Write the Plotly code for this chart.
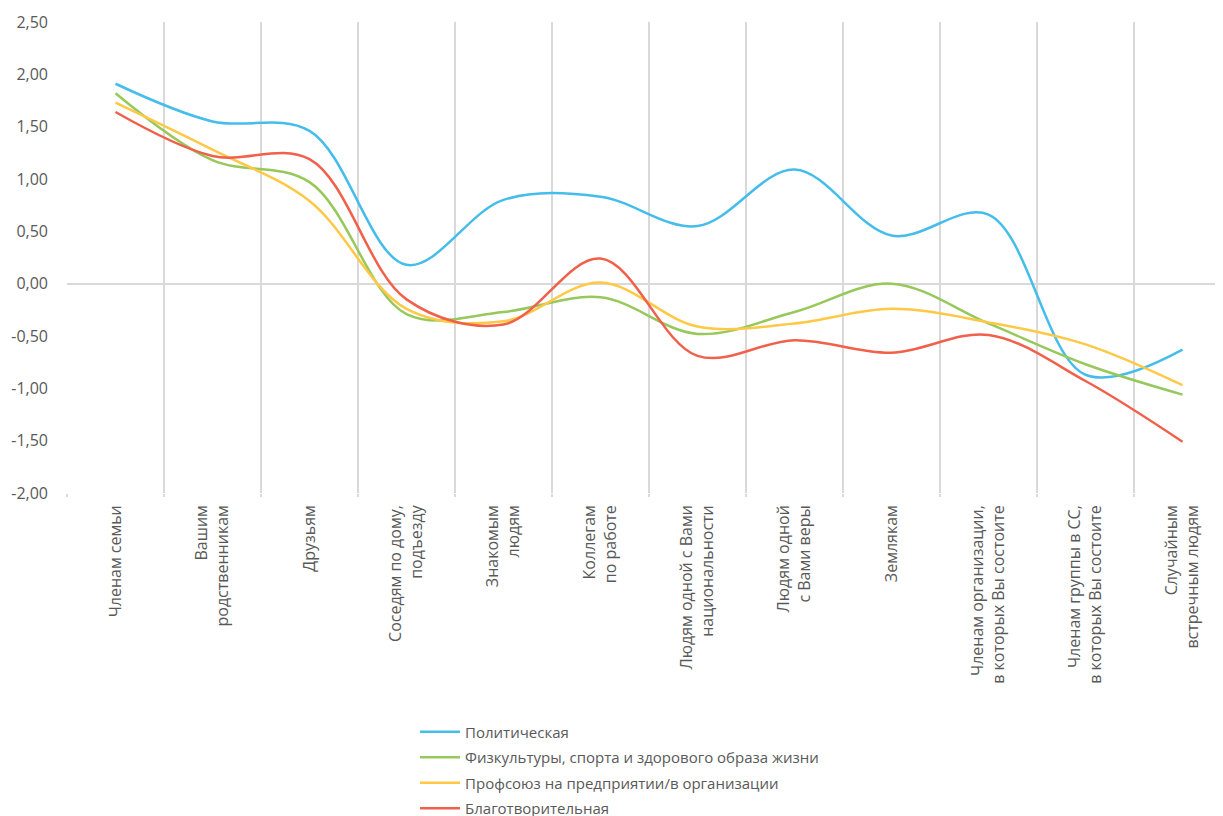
import plotly.graph_objects as go

categorias = [
    "Членам семьи",
    "Вашим<br>родственникам",
    "Друзьям",
    "Соседям по дому,<br>подъезду",
    "Знакомым<br>людям",
    "Коллегам<br>по работе",
    "Людям одной с Вами<br>национальности",
    "Людям одной<br>с Вами веры",
    "Землякам",
    "Членам организации,<br>в которых Вы состоите",
    "Членам группы в СС,<br>в которых Вы состоите",
    "Случайным<br>встречным людям",
]

politicheskaya = [1.91, 1.55, 1.46, 0.18, 0.80, 0.83, 0.55, 1.09, 0.46, 0.66, -0.87, -0.63]
fizkultura = [1.82, 1.18, 0.97, -0.29, -0.27, -0.13, -0.48, -0.27, 0.00, -0.38, -0.77, -1.06]
profsoyuz = [1.73, 1.28, 0.79, -0.24, -0.36, 0.01, -0.41, -0.38, -0.24, -0.37, -0.58, -0.97]
blagotvoritelnaya = [1.64, 1.22, 1.19, -0.15, -0.39, 0.24, -0.69, -0.54, -0.66, -0.49, -0.93, -1.51]

serie_nombres = [
    "Политическая",
    "Физкультуры, спорта и здорового образа жизни",
    "Профсоюз на предприятии/в организации",
    "Благотворительная",
]
colores = ["#45BDEA", "#96C85A", "#FFC845", "#F0604A"]

y_ticks = [-2.0, -1.5, -1.0, -0.5, 0.0, 0.5, 1.0, 1.5, 2.0, 2.5]
y_ticktext = ["-2,00", "-1,50", "-1,00", "-0,50", "0,00", "0,50", "1,00", "1,50", "2,00", "2,50"]

fig = go.Figure()
for i, (nombre, valores, color) in enumerate(zip(serie_nombres,
                                                 [politicheskaya, fizkultura, profsoyuz, blagotvoritelnaya],
                                                 colores)):
    fig.add_trace(go.Scatter(
        x=categorias,
        y=valores,
        name=nombre,
        legendgroup=f"g{i}",
        mode="lines",
        line=dict(color=color, width=2.5, shape="spline", smoothing=1.0),
    ))

gris = "#595959"
# la pagina tiene 8px de margen en el body, se compensa en los margenes
fig.update_layout(
    width=1223,
    height=816,
    separators=", ",
    plot_bgcolor="white",
    paper_bgcolor="white",
    font=dict(family="Open Sans, Noto Sans, sans-serif", size=16, color=gris),
    margin=dict(l=59, r=0, t=14, b=331),
    showlegend=True,
    legend=dict(
        x=0.299,
        y=0.133,
        xref="paper",
        yref="container",
        xanchor="left",
        yanchor="top",
        font=dict(size=15, color=gris),
        tracegroupgap=3,
        itemwidth=40,
    ),
    xaxis=dict(
        type="category",
        range=[-0.5, 11.5],
        tickson="boundaries",
        automargin=False,
        showgrid=True,
        gridcolor="#D9D9D9",
        gridwidth=1.5,
        ticks="outside",
        ticklen=3,
        tickwidth=1.5,
        tickcolor="#D9D9D9",
        ticklabelstandoff=8,
        tickangle=-90,
        tickfont=dict(size=16, color=gris),
        showline=False,
        zeroline=False,
    ),
    yaxis=dict(
        range=[-2.0, 2.5],
        tickmode="array",
        tickvals=y_ticks,
        ticktext=y_ticktext,
        automargin=False,
        showgrid=False,
        zeroline=True,
        zerolinecolor="#D9D9D9",
        zerolinewidth=1.5,
        showline=False,
        ticks="",
        ticklabelstandoff=18,
        tickfont=dict(size=16, color=gris),
    ),
)

fig.write_html("out.html")
